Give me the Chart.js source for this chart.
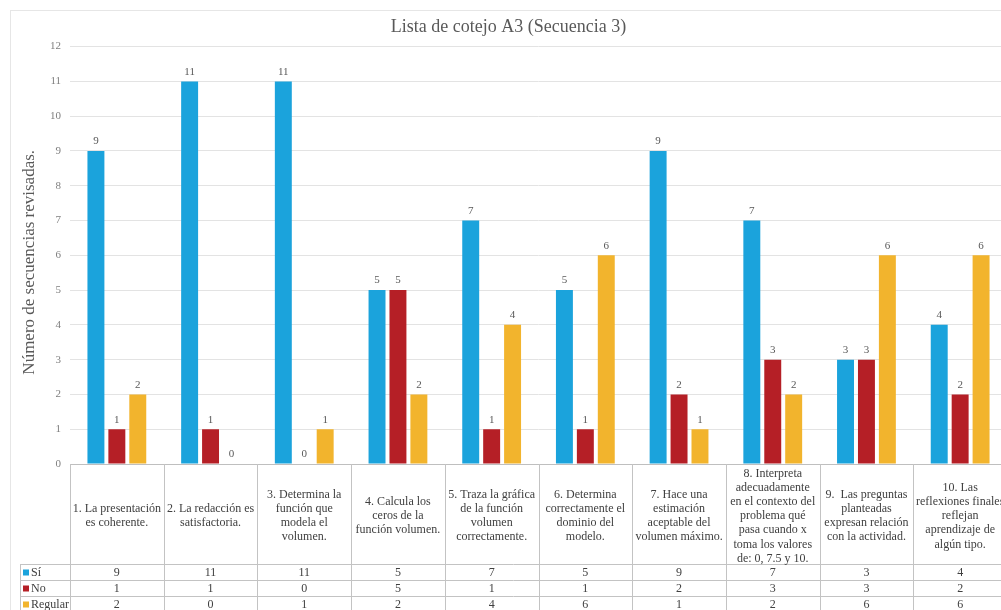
<!DOCTYPE html>
<html lang="es">
<head>
    <meta charset="UTF-8">
    <script src="https://cdn.jsdelivr.net/npm/chart.js@4.4.1/dist/chart.umd.min.js"></script>
    <title>Lista de cotejo A3</title>
    <style>
        html, body { margin: 0; padding: 0; overflow: hidden; background: #fff; }
    </style>
</head>
<body>
    <canvas id="canvas" width="1007" height="616"></canvas>
<script>

// data
const categories = [
    ['1. La presentación', 'es coherente.'],
    ['2. La redacción es', 'satisfactoria.'],
    ['3. Determina la', 'función que', 'modela el', 'volumen.'],
    ['4. Calcula los', 'ceros de la', 'función volumen.'],
    ['5. Traza la gráfica', 'de la función', 'volumen', 'correctamente.'],
    ['6. Determina', 'correctamente el', 'dominio del', 'modelo.'],
    ['7. Hace una', 'estimación', 'aceptable del', 'volumen máximo.'],
    ['8. Interpreta', 'adecuadamente', 'en el contexto del', 'problema qué', 'pasa cuando x', 'toma los valores', 'de: 0, 7.5 y 10.'],
    ['9.  Las preguntas', 'planteadas', 'expresan relación', 'con la actividad.'],
    ['10. Las', 'reflexiones finales', 'reflejan', 'aprendizaje de', 'algún tipo.']
]
const seriesNames = ['Sí', 'No', 'Regular']
const si      = [9, 11, 11, 5, 7, 5, 9, 7, 3, 4]
const no      = [1, 1, 0, 5, 1, 1, 2, 3, 3, 2]
const regular = [2, 0, 1, 2, 4, 6, 1, 2, 6, 6]
const yTicks  = [0, 1, 2, 3, 4, 5, 6, 7, 8, 9, 10, 11, 12]

const colors = ['#1ba3dc', '#b51f26', '#f2b42d']
const serif = "'Liberation Serif', 'DejaVu Serif', serif"

// frame + white background
const framePlugin = {
    id: 'frame',
    beforeDraw(chart) {
        const ctx = chart.ctx
        ctx.save()
        ctx.fillStyle = '#fff'
        ctx.fillRect(0, 0, chart.width, chart.height)
        ctx.strokeStyle = '#e6e6e6'
        ctx.lineWidth = 1
        ctx.strokeRect(10.5, 10.5, chart.width + 20, chart.height + 20)
        ctx.restore()
    }
}

// value labels above bars
const valueLabels = {
    id: 'valueLabels',
    afterDatasetsDraw(chart) {
        const ctx = chart.ctx
        ctx.save()
        ctx.font = '11px ' + serif
        ctx.fillStyle = '#595959'
        ctx.textAlign = 'center'
        ctx.textBaseline = 'bottom'
        chart.data.datasets.forEach((ds, i) => {
            chart.getDatasetMeta(i).data.forEach((bar, j) => {
                ctx.fillText(ds.data[j], bar.x, bar.y - 4)
            })
        })
        ctx.restore()
    }
}

// y axis title, drawn a bit lower than centre as in the source
const yTitle = {
    id: 'yTitle',
    afterDraw(chart) {
        const ctx = chart.ctx
        const area = chart.chartArea
        ctx.save()
        ctx.translate(30, (area.top + area.bottom) / 2 + 7)
        ctx.rotate(-Math.PI / 2)
        ctx.font = '17px ' + serif
        ctx.fillStyle = '#595959'
        ctx.textAlign = 'center'
        ctx.textBaseline = 'middle'
        ctx.fillText('Número de secuencias revisadas.', 0, 0)
        ctx.restore()
    }
}

// category labels + data table under the x axis
const dataTable = {
    id: 'dataTable',
    afterDraw(chart) {
        const ctx = chart.ctx
        const x = chart.scales.x
        const area = chart.chartArea
        const n = categories.length
        const step = (area.right - area.left) / n
        const top = area.bottom
        const rowTop = 564
        const rowH = 16
        const bottom = rowTop + rowH * 3
        ctx.save()
        ctx.strokeStyle = '#c3c3c3'
        ctx.lineWidth = 1
        ctx.beginPath()
        for (let k = 0; k <= n; k++) {
            const px = Math.round(area.left + k * step) + 0.5
            ctx.moveTo(px, top)
            ctx.lineTo(px, bottom)
        }
        ctx.moveTo(20.5, rowTop)
        ctx.lineTo(20.5, bottom)
        for (let r = 0; r <= 3; r++) {
            const py = rowTop + r * rowH + 0.5
            ctx.moveTo(20, py)
            ctx.lineTo(chart.width, py)
        }
        ctx.stroke()

        // category names
        ctx.fillStyle = '#404040'
        ctx.font = '12px ' + serif
        ctx.textAlign = 'center'
        ctx.textBaseline = 'middle'
        const lh = 14.2
        categories.forEach((lines, i) => {
            const cx = x.getPixelForValue(i)
            const y0 = 516 - (lines.length - 1) * lh / 2
            lines.forEach((t, l) => ctx.fillText(t, cx, y0 + l * lh))
        })

        // rows
        chart.data.datasets.forEach((ds, r) => {
            const cy = rowTop + r * rowH + rowH / 2 + 1
            ctx.fillStyle = colors[r]
            ctx.fillRect(23, cy - 3.5, 6, 6)
            ctx.fillStyle = '#404040'
            ctx.textAlign = 'left'
            ctx.fillText(ds.label, 31, cy)
            ctx.textAlign = 'center'
            ds.data.forEach((v, j) => ctx.fillText(v, x.getPixelForValue(j), cy))
        })
        ctx.restore()
    }
}

window.onload = () => {
    const el = document.getElementById('canvas')
    new Chart(el, {
        type: 'bar',
        data: {
            labels: categories.map(c => c.join(' ')),
            datasets: [
                { label: seriesNames[0], data: si, backgroundColor: colors[0] },
                { label: seriesNames[1], data: no, backgroundColor: colors[1] },
                { label: seriesNames[2], data: regular, backgroundColor: colors[2] }
            ]
        },
        options: {
            responsive: false,
            animation: false,
            categoryPercentage: 0.67,
            barPercentage: 0.81,
            layout: { padding: { left: 10, right: 0, top: 0, bottom: 152 } },
            plugins: {
                legend: { display: false },
                tooltip: { enabled: false },
                title: {
                    display: true,
                    text: 'Lista de cotejo A3 (Secuencia 3)',
                    color: '#595959',
                    font: { family: serif, size: 18, weight: 'normal' },
                    padding: { top: 16, bottom: 9 }
                }
            },
            scales: {
                x: {
                    ticks: { display: false },
                    grid: { display: false, drawTicks: false },
                    border: { display: true, color: '#bfbfbf' },
                    afterFit: s => { s.height = 0 }
                },
                y: {
                    min: yTicks[0],
                    max: yTicks[yTicks.length - 1],
                    afterBuildTicks: s => { s.ticks = yTicks.map(v => ({ value: v })) },
                    ticks: {
                        color: '#7f7f7f',
                        padding: 9,
                        font: { family: serif, size: 11 }
                    },
                    grid: { color: '#e3e3e3', drawTicks: false },
                    border: { display: false },
                    afterFit: s => { s.width = 60 }
                }
            }
        },
        plugins: [framePlugin, valueLabels, yTitle, dataTable]
    })
}

</script>
</body>
</html>
